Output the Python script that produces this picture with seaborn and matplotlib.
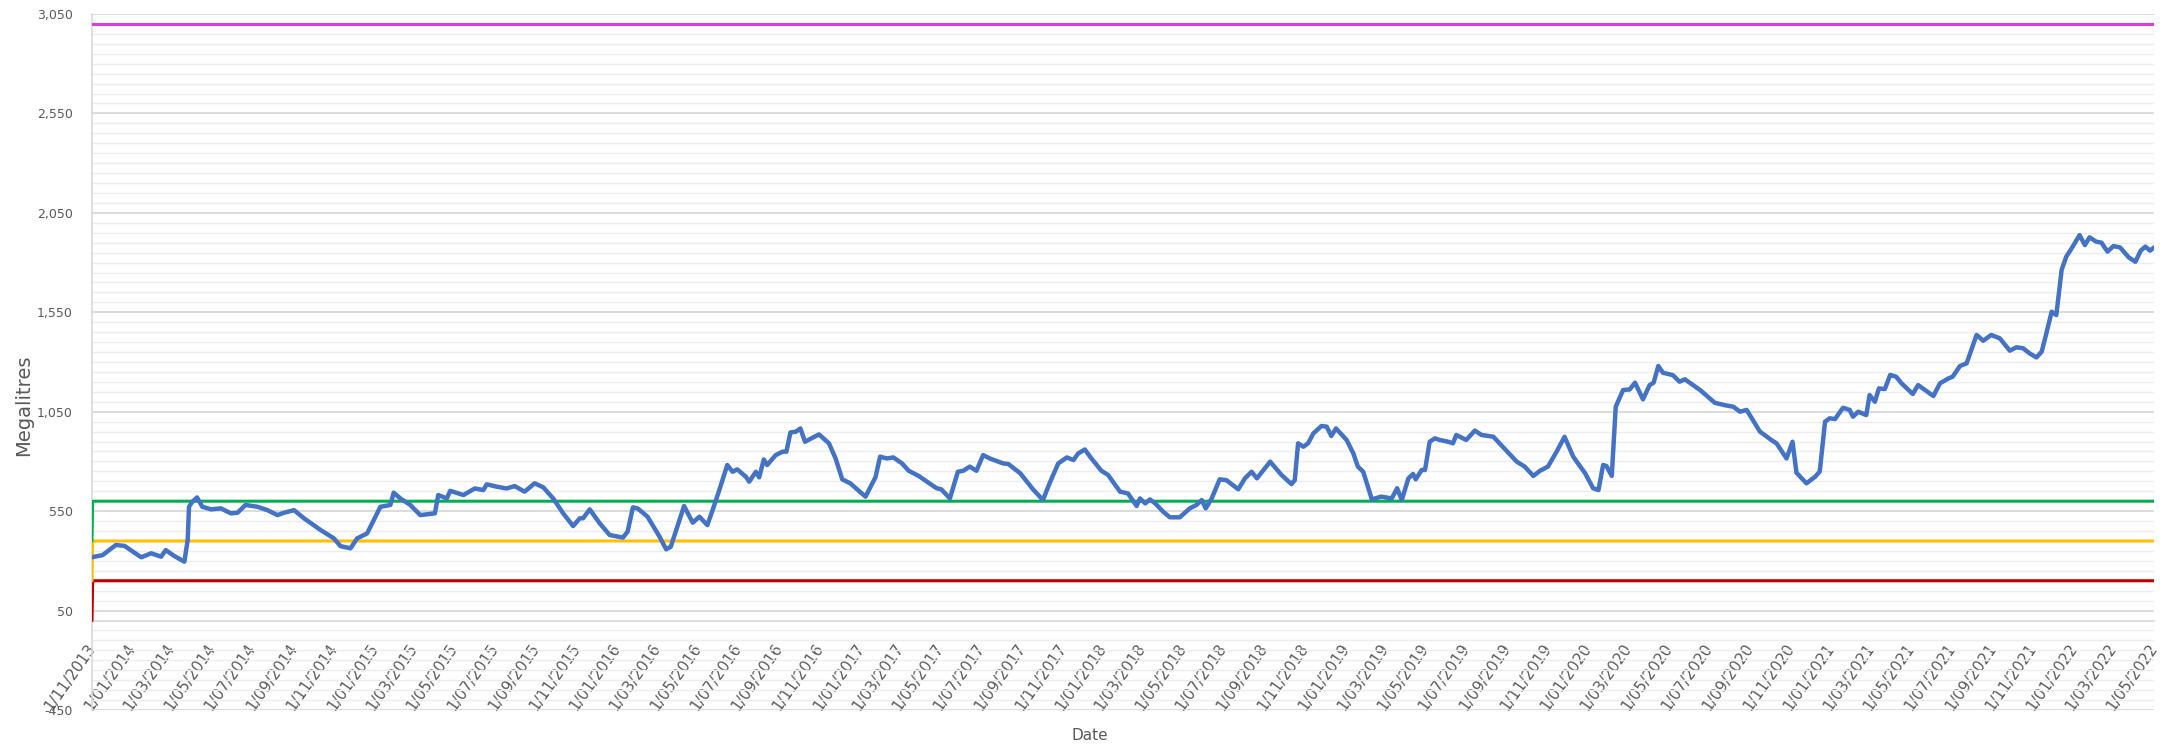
import matplotlib
matplotlib.use("Agg")
import matplotlib.pyplot as plt
from matplotlib.ticker import MultipleLocator
import seaborn as sns
import pandas as pd

# ---------------- data ----------------
storage_dates = [
    "2013-11-01", "2013-11-05", "2013-11-17", "2013-12-07", "2013-12-20", "2014-01-14", "2014-01-29",
    "2014-02-13", "2014-02-20", "2014-03-05", "2014-03-20", "2014-03-25", "2014-03-27", "2014-04-01",
    "2014-04-08", "2014-04-16", "2014-04-29", "2014-05-14", "2014-05-29", "2014-06-08", "2014-06-20",
    "2014-07-08", "2014-07-23", "2014-08-07", "2014-08-17", "2014-09-01", "2014-09-16", "2014-10-11",
    "2014-10-31", "2014-11-10", "2014-11-25", "2014-12-05", "2014-12-20", "2015-01-09", "2015-01-24",
    "2015-01-29", "2015-02-08", "2015-02-23", "2015-03-10", "2015-04-01", "2015-04-06", "2015-04-19",
    "2015-04-24", "2015-05-14", "2015-05-31", "2015-06-13", "2015-06-18", "2015-07-03", "2015-07-18",
    "2015-07-30", "2015-08-14", "2015-08-29", "2015-09-11", "2015-09-26", "2015-10-11", "2015-10-26",
    "2015-11-05", "2015-11-10", "2015-11-20", "2015-12-05", "2015-12-20", "2016-01-09", "2016-01-16",
    "2016-01-24", "2016-01-31", "2016-02-15", "2016-03-04", "2016-03-14", "2016-03-21", "2016-04-10",
    "2016-04-23", "2016-05-03", "2016-05-15", "2016-05-23", "2016-06-02", "2016-06-14", "2016-06-22",
    "2016-06-29", "2016-07-12", "2016-07-17", "2016-07-27", "2016-08-01", "2016-08-08", "2016-08-13",
    "2016-08-26", "2016-09-05", "2016-09-11", "2016-09-17", "2016-09-25", "2016-10-02", "2016-10-09",
    "2016-10-30", "2016-11-14", "2016-11-24", "2016-12-04", "2016-12-16", "2017-01-08", "2017-01-23",
    "2017-01-30", "2017-02-09", "2017-02-19", "2017-03-04", "2017-03-14", "2017-03-29", "2017-04-25",
    "2017-05-02", "2017-05-15", "2017-05-27", "2017-06-04", "2017-06-14", "2017-06-24", "2017-07-04",
    "2017-07-14", "2017-08-03", "2017-08-11", "2017-08-29", "2017-09-17", "2017-10-02", "2017-10-12",
    "2017-10-25", "2017-11-07", "2017-11-17", "2017-11-24", "2017-12-04", "2017-12-14", "2017-12-29",
    "2018-01-08", "2018-01-26", "2018-02-07", "2018-02-20", "2018-02-25", "2018-03-05", "2018-03-12",
    "2018-03-20", "2018-04-01", "2018-04-11", "2018-04-26", "2018-05-11", "2018-05-21", "2018-05-29",
    "2018-06-04", "2018-06-13", "2018-06-25", "2018-07-05", "2018-07-23", "2018-08-02", "2018-08-12",
    "2018-08-20", "2018-09-09", "2018-09-26", "2018-10-11", "2018-10-16", "2018-10-21", "2018-10-29",
    "2018-11-05", "2018-11-13", "2018-11-25", "2018-12-03", "2018-12-10", "2018-12-17", "2019-01-02",
    "2019-01-12", "2019-01-19", "2019-01-27", "2019-02-09", "2019-02-23", "2019-03-11", "2019-03-19",
    "2019-03-26", "2019-04-05", "2019-04-12", "2019-04-16", "2019-04-25", "2019-04-30", "2019-05-07",
    "2019-05-15", "2019-05-22", "2019-06-04", "2019-06-11", "2019-06-16", "2019-07-01", "2019-07-14",
    "2019-07-24", "2019-08-11", "2019-08-24", "2019-09-15", "2019-09-27", "2019-10-10", "2019-10-20",
    "2019-11-01", "2019-11-14", "2019-11-26", "2019-12-09", "2019-12-27", "2020-01-08", "2020-01-16",
    "2020-01-23", "2020-01-28", "2020-02-05", "2020-02-11", "2020-02-22", "2020-03-03", "2020-03-11",
    "2020-03-23", "2020-04-02", "2020-04-08", "2020-04-15", "2020-04-22", "2020-05-07", "2020-05-17",
    "2020-05-25", "2020-06-17", "2020-07-09", "2020-07-24", "2020-08-06", "2020-08-16", "2020-08-26",
    "2020-09-15", "2020-10-02", "2020-10-10", "2020-10-25", "2020-11-03", "2020-11-09", "2020-11-24",
    "2020-12-07", "2020-12-14", "2020-12-22", "2020-12-29", "2021-01-06", "2021-01-18", "2021-01-28",
    "2021-02-02", "2021-02-10", "2021-02-22", "2021-02-27", "2021-03-07", "2021-03-13", "2021-03-22",
    "2021-03-30", "2021-04-08", "2021-04-16", "2021-05-03", "2021-05-11", "2021-06-03", "2021-06-13",
    "2021-06-26", "2021-07-02", "2021-07-13", "2021-07-23", "2021-08-07", "2021-08-17", "2021-08-29",
    "2021-09-11", "2021-09-26", "2021-10-06", "2021-10-16", "2021-10-26", "2021-11-05", "2021-11-13",
    "2021-11-20", "2021-11-28", "2021-12-05", "2021-12-13", "2021-12-20", "2021-12-28", "2022-01-09",
    "2022-01-17", "2022-01-24", "2022-02-03", "2022-02-11", "2022-02-20", "2022-03-01", "2022-03-11",
    "2022-03-24", "2022-04-03", "2022-04-11", "2022-04-18", "2022-04-25", "2022-05-01",
]
storage_ml = [
    318, 321, 329, 380, 375, 318, 338,
    321, 354, 324, 296, 405, 572, 597,
    619, 572, 559, 564, 539, 542, 581,
    572, 555, 530, 542, 555, 514, 455,
    413, 374, 363, 413, 438, 572, 581,
    643, 614, 581, 530, 539, 631, 614,
    652, 631, 664, 656, 685, 673, 664,
    676, 648, 690, 670, 614, 539, 475,
    514, 514, 559, 489, 430, 417, 447,
    569, 564, 522, 422, 358, 371, 576,
    492, 522, 480, 556, 656, 782, 748,
    760, 723, 698, 748, 720, 810, 782,
    832, 849, 849, 946, 949, 966, 899,
    936, 891, 815, 710, 690, 623, 720,
    824, 815, 820, 790, 753, 727, 665,
    660, 614, 748, 753, 774, 753, 832,
    815, 790, 787, 740, 660, 606, 690,
    790, 820, 807, 840, 860, 815, 753,
    732, 648, 639, 576, 614, 589, 609,
    589, 547, 519, 519, 564, 581, 606,
    564, 614, 710, 706, 660, 715, 748,
    715, 799, 732, 686, 706, 891, 874,
    891, 941, 978, 975, 928, 966, 908,
    841, 774, 748, 609, 623, 614, 665,
    606, 715, 737, 710, 757, 757, 899,
    916, 908, 899, 891, 933, 908, 955,
    933, 924, 877, 799, 774, 727, 753,
    774, 849, 924, 824, 740, 665, 656,
    782, 777, 727, 1075, 1159, 1162, 1196,
    1112, 1184, 1196, 1280, 1246, 1234, 1201,
    1213, 1159, 1095, 1083, 1075, 1050, 1059,
    950, 908, 891, 815, 899, 743, 690,
    723, 749, 1000, 1017, 1013, 1070, 1059,
    1025, 1050, 1033, 1134, 1100, 1167, 1164,
    1235, 1226, 1193, 1139, 1184, 1129, 1193,
    1218, 1226, 1280, 1293, 1436, 1407, 1436,
    1419, 1357, 1374, 1369, 1343, 1323, 1352,
    1444, 1553, 1536, 1763, 1830, 1871, 1938,
    1888, 1927, 1905, 1900, 1855, 1883, 1876,
    1826, 1804, 1860, 1880, 1860, 1876,
]

threshold_dates = ["2013-11-01", "2013-11-02", "2022-05-01"]
red_ml = [0, 200, 200]
yellow_ml = [200, 400, 400]
green_ml = [400, 600, 600]
magenta_ml = [3000, 3000, 3000]

y_ticks = [-450, 50, 550, 1050, 1550, 2050, 2550, 3050]
y_tick_labels = ["-450", "50", "550", "1,050", "1,550", "2,050", "2,550", "3,050"]
x_start, x_end = "2013-11-01", "2022-05-01"

# ---------------- style ----------------
sns.set_theme(style="white")
plt.rcParams["font.family"] = ["DejaVu Sans"]

TXT = "#595959"
GRID_MAJOR = "#D9D9D9"
GRID_MINOR = "#EDEDED"

fig = plt.figure(figsize=(21.74, 7.5), dpi=100)
ax = fig.add_axes([92 / 2174, 40 / 750, 2062 / 2174, 696 / 750])

thr_x = pd.to_datetime(threshold_dates)
line_specs = [
    (magenta_ml, "#E23AD6"),
    (red_ml, "#C00000"),
    (yellow_ml, "#FFC000"),
    (green_ml, "#00B050"),
]
for vals, col in line_specs:
    sns.lineplot(x=thr_x, y=vals, color=col, linewidth=2.2, ax=ax, legend=False, zorder=3)

sns.lineplot(x=pd.to_datetime(storage_dates), y=storage_ml, color="#4472C4",
             linewidth=3.2, ax=ax, legend=False, zorder=4)

# ---------------- axes ----------------
ax.set_xlim(pd.Timestamp(x_start), pd.Timestamp(x_end))
ax.set_ylim(-450, 3050)

ax.tick_params(axis="x", which="both", length=0, pad=18, labelsize=11, labelcolor=TXT)
ax.tick_params(axis="y", which="both", length=0, pad=14, labelsize=9, labelcolor=TXT)

ax.set_yticks(y_ticks)
ax.set_yticklabels(y_tick_labels)
ax.yaxis.set_minor_locator(MultipleLocator(50))
ax.grid(False)
ax.grid(which="major", axis="y", color=GRID_MAJOR, linewidth=1.3, zorder=1)
ax.grid(which="minor", axis="y", color=GRID_MINOR, linewidth=1.0, zorder=0)
ax.set_axisbelow(True)

tick_dates = pd.date_range(x_start, x_end, freq="2MS")
tick_labels = [f"{d.day}/{d.month:02d}/{d.year}" for d in tick_dates]
ax.set_xticks(tick_dates)
ax.set_xticklabels(tick_labels)

for s in ("top", "right"):
    ax.spines[s].set_visible(False)
ax.spines["left"].set_color(GRID_MAJOR)
ax.spines["left"].set_linewidth(1.2)
ax.spines["bottom"].set_position(("data", 0))
ax.spines["bottom"].set_color(GRID_MAJOR)
ax.spines["bottom"].set_linewidth(1.2)

ax.set_ylabel("Megalitres", fontsize=14, color=TXT)
ax.yaxis.label.set_va("center")
ax.yaxis.set_label_coords(-0.033, 0.438)
ax.set_xlabel("Date", fontsize=11, color=TXT)
ax.xaxis.label.set_va("center")
ax.xaxis.set_label_coords(0.484, -0.037)

fig.canvas.draw()
plt.setp(ax.get_xticklabels(), rotation=55, ha="right", va="center",
         rotation_mode="anchor")

fig.savefig("out.png", dpi=100, facecolor="white")
